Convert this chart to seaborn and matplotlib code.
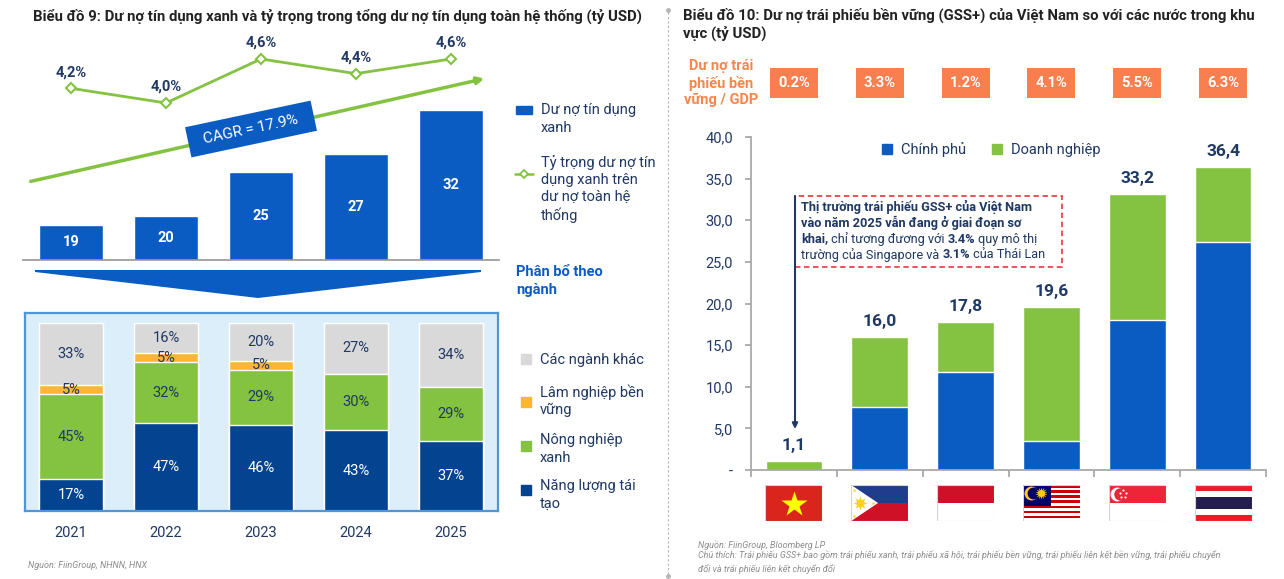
import numpy as np
import seaborn as sns
import matplotlib.pyplot as plt
from matplotlib import transforms
from matplotlib.patches import Rectangle, Polygon, FancyArrowPatch
from matplotlib.lines import Line2D

# Biểu đồ 9 - dư nợ tín dụng xanh (tỷ USD) và tỷ trọng (%)
years = ["2021", "2022", "2023", "2024", "2025"]
green_credit = [19, 20, 25, 27, 32]
green_share = [4.2, 4.0, 4.6, 4.4, 4.6]
share_labels = ["4,2%", "4,0%", "4,6%", "4,4%", "4,6%"]
cagr_label = "CAGR = 17.9%"

# phân bổ theo ngành (%)
energy = [17, 47, 46, 43, 37]
agri = [45, 32, 29, 30, 29]
forest = [5, 5, 5, 0, 0]
other = [33, 16, 20, 27, 34]
sector_names = ["Các ngành khác", "Lâm nghiệp bền\nvững", "Nông nghiệp\nxanh", "Năng lượng tái\ntạo"]

# Biểu đồ 10 - trái phiếu GSS+ (tỷ USD)
countries = ["vn", "ph", "id", "my", "sg", "th"]
gov_bonds = [0.0, 7.6, 11.8, 3.5, 18.0, 27.4]
corp_bonds = [1.1, 8.4, 6.0, 16.1, 15.2, 9.0]
total_labels = ["1,1", "16,0", "17,8", "19,6", "33,2", "36,4"]
gdp_ratio = ["0.2%", "3.3%", "1.2%", "4.1%", "5.5%", "6.3%"]
ytick_vals = [0, 5, 10, 15, 20, 25, 30, 35, 40]
ytick_text = ["-", "5,0", "10,0", "15,0", "20,0", "25,0", "30,0", "35,0", "40,0"]

BLUE = "#0a5cc2"
NAVY = "#03438f"
GREEN = "#84c241"
ORANGE = "#fbb732"
GRAY = "#d9d9d9"
TXT = "#1f3864"
CORAL = "#fa7f4e"
SRC = "#8c8c8c"

sns.set_theme(style="white")
plt.rcParams["font.family"] = ["Roboto", "DejaVu Sans"]

W, H = 1284, 579
fig = plt.figure(figsize=(W / 100, H / 100), dpi=100)
fig.patch.set_facecolor("white")


def fx(x):
    return x / W


def fy(y):
    return 1 - y / H


def add_ax(l, t, r, b):
    return fig.add_axes([l / W, 1 - b / H, (r - l) / W, (b - t) / H])


# ---------------- left: top chart ----------------
fig.text(fx(33), fy(16), "Biểu đồ 9: Dư nợ tín dụng xanh và tỷ trọng trong tổng dư nợ tín dụng toàn hệ thống (tỷ USD)",
         fontsize=10.7, fontweight="bold", color="#222222", va="center")

ax_top = add_ax(23.5, 40, 498.5, 260)
sns.barplot(x=years, y=green_credit, color=BLUE, saturation=1, width=0.67, ax=ax_top)
ax_top.set_ylim(15, 40)
ax_top.set_xlim(-0.5, 4.5)
ax_top.set_yticks([])
ax_top.set_xticks([])
ax_top.set_xlabel("")
ax_top.set_ylabel("")
for s in ["top", "left", "right"]:
    ax_top.spines[s].set_visible(False)
ax_top.spines["bottom"].set_color("#9a9a9a")
base = ax_top.get_ylim()[0]
for i, v in enumerate(green_credit):
    ax_top.text(i, (v + base) / 2, str(v), ha="center", va="center", color="white",
                fontsize=10.5, fontweight="bold")

ax_line = ax_top.twinx()
sns.lineplot(x=np.arange(len(years)), y=green_share, ax=ax_line, color=GREEN, linewidth=2,
             marker="D", markersize=5, markerfacecolor="white", markeredgecolor=GREEN, markeredgewidth=1.5)
ax_line.set_ylim(1.858, 4.859)
ax_line.set_xlim(-0.5, 4.5)
ax_line.set_yticks([])
ax_line.axis("off")
for i, (v, lbl) in enumerate(zip(green_share, share_labels)):
    ax_line.annotate(lbl, (i, v), xytext=(0, 11.5), textcoords="offset points", ha="center", va="center",
                     fontsize=10.5, fontweight="bold", color=TXT)

# CAGR arrow + box
fig.add_artist(FancyArrowPatch(posA=(fx(28), fy(182)), posB=(fx(487), fy(78)), transform=fig.transFigure,
                               arrowstyle="-|>", mutation_scale=10, color=GREEN, lw=2.5))
fig.text(fx(251), fy(129), "  " + cagr_label + "  ", rotation=12, ha="center", va="center", color="white",
         fontsize=11, rotation_mode="anchor",
         bbox=dict(boxstyle="square,pad=0.55", facecolor=BLUE, edgecolor="none"))

# legend top
fig.add_artist(Rectangle((fx(516), fy(114)), 16 / W, 8 / H, transform=fig.transFigure, color=BLUE))
fig.text(fx(541), fy(119), "Dư nợ tín dụng\nxanh", fontsize=10.5, color=TXT, va="center", linespacing=1.3)
fig.add_artist(Line2D([fx(515), fx(533)], [fy(174), fy(174)], transform=fig.transFigure, color=GREEN, lw=1.8))
fig.add_artist(Line2D([fx(524)], [fy(174)], transform=fig.transFigure, color=GREEN, marker="D", ms=4.5,
                      mfc="white", mec=GREEN, mew=1.3, lw=0))
fig.text(fx(541), fy(189), "Tỷ trọng dư nợ tín\ndụng xanh trên\ndư nợ toàn hệ\nthống", fontsize=10.5, color=TXT,
         va="center", linespacing=1.3)

# big down arrow
fig.add_artist(Polygon([(fx(35), fy(270)), (fx(481), fy(270)), (fx(481), fy(272)), (fx(258), fy(298)),
                        (fx(35), fy(272))], closed=True, transform=fig.transFigure, color=BLUE, lw=0))
fig.text(fx(516), fy(281), "Phân bổ theo\nngành", fontsize=10.5, fontweight="bold", color=BLUE, va="center",
         linespacing=1.4)

# ---------------- left: stacked chart ----------------
ax_st = add_ax(25, 313, 498, 511)
ax_st.set_facecolor("#ddeefb")
layers = [
    ([e + a + f + o for e, a, f, o in zip(energy, agri, forest, other)], GRAY),
    ([e + a + f for e, a, f in zip(energy, agri, forest)], ORANGE),
    ([e + a for e, a in zip(energy, agri)], GREEN),
    (energy, NAVY),
]
for vals, col in layers:
    sns.barplot(x=years, y=vals, color=col, saturation=1, width=0.67, ax=ax_st)
ax_st.set_ylim(0, 105.3)
ax_st.set_xlim(-0.484, 4.495)
ax_st.set_yticks([])
ax_st.set_xlabel("")
ax_st.set_ylabel("")
for s in ax_st.spines.values():
    s.set_color("#4e95d9")
    s.set_linewidth(1.6)
ax_st.tick_params(axis="x", length=0, pad=11, labelsize=10.5, labelcolor=TXT)

for i in range(len(years)):
    bottom = 0
    for v, tc in [(energy[i], "white"), (agri[i], TXT), (forest[i], TXT), (other[i], TXT)]:
        if v > 0:
            ax_st.text(i, bottom + v / 2, f"{v}%", ha="center", va="center", fontsize=10.5, color=tc)
        bottom += v

leg_items = [(GRAY, 359, 360), (ORANGE, 402, 401), (GREEN, 446, 449), (NAVY, 490, 495)]
for (col, sq_y, txt_y), name in zip(leg_items, sector_names):
    fig.add_artist(Rectangle((fx(521), fy(sq_y + 5)), 10 / W, 10 / H, transform=fig.transFigure, color=col))
    fig.text(fx(540), fy(txt_y), name, fontsize=10.5, color=TXT, va="center", linespacing=1.3)

fig.text(fx(28), fy(565), "Nguồn: FiinGroup, NHNN, HNX", fontsize=6.5, style="italic", color=SRC, va="center")

# divider
fig.add_artist(Line2D([fx(668), fx(668)], [fy(12), fy(575)], transform=fig.transFigure, color="#b5b5b5",
                      lw=0.8, ls=(0, (2, 2))))
fig.add_artist(Line2D([fx(668), fx(668)], [fy(10), fy(576)], transform=fig.transFigure, color="#b5b5b5",
                      lw=0, marker="o", ms=2.5))

# ---------------- right chart ----------------
fig.text(fx(683), fy(24.5),
         "Biểu đồ 10: Dư nợ trái phiếu bền vững (GSS+) của Việt Nam so với các nước trong khu\nvực (tỷ USD)",
         fontsize=10.7, fontweight="bold", color="#222222", va="center", linespacing=1.2)

ax_r = add_ax(751, 137, 1266, 470)
totals = [g + c for g, c in zip(gov_bonds, corp_bonds)]
sns.barplot(x=countries, y=totals, color=GREEN, saturation=1, width=0.66, ax=ax_r)
sns.barplot(x=countries, y=gov_bonds, color=BLUE, saturation=1, width=0.66, ax=ax_r)
ax_r.set_ylim(0, 40)
ax_r.set_xlim(-0.5, 5.5)
ax_r.set_xlabel("")
ax_r.set_ylabel("")
ax_r.set_yticks(ytick_vals)
ax_r.set_yticklabels(ytick_text)
ax_r.set_xticks(np.arange(-0.5, len(countries), 1))
ax_r.set_xticklabels([])
for s in ["top", "right"]:
    ax_r.spines[s].set_visible(False)
for s in ["left", "bottom"]:
    ax_r.spines[s].set_color("#a6a6a6")
ax_r.tick_params(axis="y", left=True, length=4, color="#a6a6a6", pad=9, labelsize=10.5, labelcolor=TXT)
ax_r.tick_params(axis="x", bottom=True, length=5, color="#a6a6a6")

for i, (t, lbl) in enumerate(zip(totals, total_labels)):
    ax_r.annotate(lbl, (i, t), xytext=(0, 11), textcoords="offset points", ha="center", va="center",
                  fontsize=12.5, fontweight="bold", color=TXT)

ax_r.legend([Rectangle((0, 0), 1, 1, color=BLUE), Rectangle((0, 0), 1, 1, color=GREEN)],
            ["Chính phủ", "Doanh nghiệp"], loc="center", bbox_to_anchor=(0.466, 0.961), ncol=2, frameon=False,
            handlelength=0.7, handleheight=0.7, columnspacing=1.8, handletextpad=0.6, fontsize=10.5,
            labelcolor=TXT)

# GDP ratio row
blend = transforms.blended_transform_factory(ax_r.transData, fig.transFigure)
fig.text(fx(721), fy(83), "Dư nợ trái\nphiếu bền\nvững / GDP", ha="center", va="center", color="#f5874d",
         fontsize=10.5, fontweight="bold", linespacing=1.2)
for i, r in enumerate(gdp_ratio):
    fig.add_artist(Rectangle((i - 0.28, fy(98)), 0.56, 30 / H, transform=blend, color=CORAL, lw=0))
    fig.text(i, fy(83), r, transform=blend, ha="center", va="center", color="white", fontsize=10.5,
             fontweight="bold")

# annotation box
fig.add_artist(Rectangle((fx(795), fy(267)), (1062 - 795) / W, 71 / H, transform=fig.transFigure, fill=False,
                         ec="#e8474a", lw=1.3, ls=(0, (3, 2))))
fig.add_artist(FancyArrowPatch(posA=(fx(795), fy(196)), posB=(fx(795), fy(429)), transform=fig.transFigure,
                               arrowstyle="-|>", mutation_scale=8, color=TXT, lw=1.5, shrinkA=0, shrinkB=0))

renderer = fig.canvas.get_renderer()
note_size = 9.2
note_lines = [
    [("Thị trường trái phiếu GSS+ của Việt Nam", True)],
    [("vào năm 2025 vẫn đang ở giai đoạn sơ", True)],
    [("khai,", True), ("chỉ tương đương với", False), ("3.4%", True), ("quy mô thị", False)],
    [("trường của Singapore và", False), ("3.1%", True), ("của Thái Lan", False)],
]
probe_a = fig.text(0, 0, "a a", fontsize=note_size)
probe_b = fig.text(0, 0, "aa", fontsize=note_size)
space_w = probe_a.get_window_extent(renderer).width - probe_b.get_window_extent(renderer).width
probe_a.remove()
probe_b.remove()
for k, runs in enumerate(note_lines):
    x = 801
    y = 207 + k * 16
    for s, bold in runs:
        t = fig.text(fx(x), fy(y), s, fontsize=note_size, fontweight="bold" if bold else "normal", color=TXT,
                     va="center", ha="left")
        x += t.get_window_extent(renderer).width + space_w


# flags
def draw_flag(fa, code):
    fa.set_xlim(0, 1)
    fa.set_ylim(0, 1)
    fa.axis("off")

    def rect(x, y, w, h, c):
        fa.add_patch(Rectangle((x, y), w, h, color=c, lw=0))

    if code == "vn":
        rect(0, 0, 1, 1, "#da251d")
        fa.plot(0.5, 0.47, marker="*", ms=19, color="#ffff00", mec="none")
    elif code == "ph":
        rect(0, 0.5, 1, 0.5, "#1f3d8c")
        rect(0, 0, 1, 0.5, "#ce1126")
        fa.add_patch(Polygon([(0, 0), (0, 1), (0.47, 0.5)], color="white", lw=0))
        fa.plot(0.16, 0.5, marker=(8, 1, 0), ms=10, color="#fcd116", mec="none")
        fa.plot(0.16, 0.5, marker="o", ms=4, color="#fcd116", mec="none")
        for px_, py_ in [(0.05, 0.87), (0.05, 0.13), (0.38, 0.5)]:
            fa.plot(px_, py_, marker="*", ms=3, color="#fcd116", mec="none")
    elif code == "id":
        rect(0, 0.5, 1, 0.5, "#ce1126")
        rect(0, 0, 1, 0.5, "white")
    elif code == "my":
        n = 14
        for j in range(n):
            rect(0, 1 - (j + 1) / n, 1, 1 / n, "#cc0001" if j % 2 == 0 else "white")
        rect(0, 1 - 8 / n, 0.5, 8 / n, "#010066")
        fa.plot(0.14, 0.78, marker="o", ms=10, color="#ffcc00", mec="none")
        fa.plot(0.18, 0.78, marker="o", ms=8.5, color="#010066", mec="none")
        fa.plot(0.32, 0.78, marker=(14, 1, 0), ms=9, color="#ffcc00", mec="none")
    elif code == "sg":
        rect(0, 0.5, 1, 0.5, "#ee2536")
        rect(0, 0, 1, 0.5, "white")
        fa.plot(0.14, 0.75, marker="o", ms=10, color="white", mec="none")
        fa.plot(0.19, 0.75, marker="o", ms=9, color="#ee2536", mec="none")
        for a in np.deg2rad([90, 162, 234, 306, 18]):
            fa.plot(0.25 + 0.055 * np.cos(a), 0.75 + 0.1 * np.sin(a), marker="o", ms=1.6, color="white",
                    mec="none")
    elif code == "th":
        for y0, h, c in [(0, 1 / 6, "#ed1c24"), (1 / 6, 1 / 6, "white"), (2 / 6, 2 / 6, "#241d4f"),
                         (4 / 6, 1 / 6, "white"), (5 / 6, 1 / 6, "#ed1c24")]:
            rect(0, y0, 1, h, c)
    fa.add_patch(Rectangle((0, 0), 1, 1, fill=False, ec="#d4d4d4", lw=0.8))


for i, code in enumerate(countries):
    cx = ax_r.transData.transform((i, 0))[0]
    fa = add_ax(cx - 28.5, 485, cx + 28.5, 521)
    draw_flag(fa, code)

fig.text(fx(698), fy(545), "Nguồn: FiinGroup, Bloomberg LP", fontsize=6.5, style="italic", color=SRC, va="center")
fig.text(fx(698), fy(562),
         "Chú thích: Trái phiếu GSS+ bao gồm trái phiếu xanh, trái phiếu xã hội, trái phiếu bền vững, trái phiếu liên kết bền vững, trái phiếu chuyển\nđổi và trái phiếu liên kết chuyển đổi",
         fontsize=6.5, style="italic", color=SRC, va="center", linespacing=1.45)

fig.savefig("out.png", dpi=100)
